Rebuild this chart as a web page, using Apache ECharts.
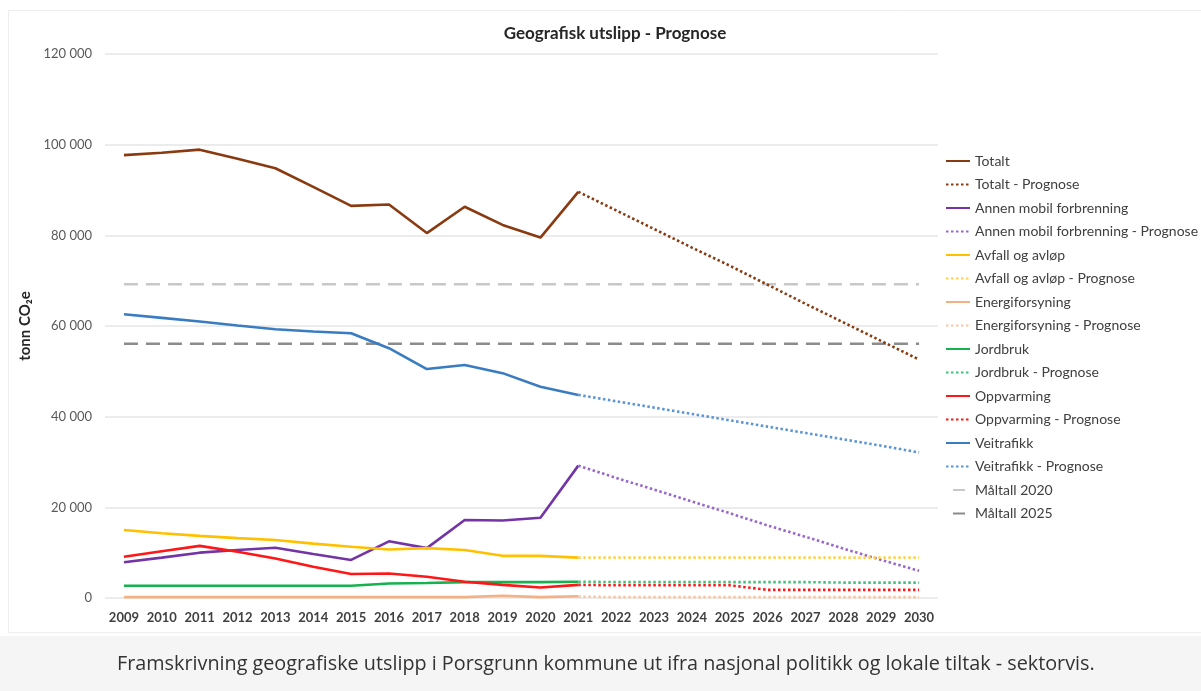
<!DOCTYPE html>
<html>
<head>
<meta charset="utf-8">
<script src="https://cdn.jsdelivr.net/npm/echarts@6/dist/echarts.min.js"></script>
<style>
  html, body { margin: 0; padding: 0; background: #fff; }
  #chart { width: 1201px; height: 691px; }
</style>
</head>
<body>
<div id="chart"></div>
<script>
const years = ['2009', '2010', '2011', '2012', '2013', '2014', '2015', '2016', '2017', '2018', '2019',
  '2020', '2021', '2022', '2023', '2024', '2025', '2026', '2027', '2028', '2029', '2030']
const yTicks = [0, 20000, 40000, 60000, 80000, 100000, 120000]

// historical values 2009-2021
const totalt = [97700, 98200, 98900, 96900, 94800, 90700, 86500, 86800, 80500, 86300, 82300, 79500, 89600]
const annenMobil = [7900, 8900, 10000, 10600, 11100, 9700, 8400, 12500, 11000, 17200, 17100, 17700, 29200]
const avfall = [15000, 14300, 13700, 13200, 12800, 12000, 11300, 10700, 11000, 10600, 9300, 9300, 8900]
const energi = [200, 200, 200, 200, 200, 200, 200, 200, 200, 200, 500, 200, 400]
const jordbruk = [2700, 2700, 2700, 2700, 2700, 2700, 2700, 3200, 3300, 3500, 3500, 3500, 3600]
const oppvarming = [9100, 10300, 11500, 10200, 8700, 6900, 5300, 5400, 4700, 3600, 2900, 2300, 2900]
const veitrafikk = [62600, 61800, 61000, 60100, 59300, 58800, 58400, 55100, 50500, 51400, 49600, 46600, 44800]

// forecast values 2021-2030
const totaltPrognose = [89600, 85500, 81400, 77300, 73300, 69100, 64900, 60800, 56700, 52600]
const annenMobilPrognose = [29200, 26500, 23900, 21300, 18700, 16000, 13500, 10900, 8400, 6000]
const avfallPrognose = [8900, 8900, 8900, 8900, 8900, 8900, 8900, 8900, 8900, 8900]
const energiPrognose = [300, 200, 200, 200, 200, 200, 200, 200, 200, 200]
const jordbrukPrognose = [3600, 3500, 3500, 3500, 3500, 3500, 3500, 3400, 3400, 3400]
const oppvarmingPrognose = [2900, 2800, 2800, 2800, 2800, 1800, 1800, 1800, 1800, 1800]
const veitrafikkPrognose = [44800, 43400, 42000, 40600, 39200, 37800, 36400, 35000, 33600, 32100]

// target lines, drawn from first to last year
const maal2020 = [69200, 69200]
const maal2025 = [56100, 56100]

const histLen = totalt.length
function hist(arr) {
  return years.map((y, i) => (i < histLen ? arr[i] : null))
}
function prog(arr) {
  const start = histLen - 1
  return years.map((y, i) => (i >= start ? arr[i - start] : null))
}
function target(arr) {
  return [[years[0], arr[0]], [years[years.length - 1], arr[1]]]
}

const dot = [2.5, 2.5]
function solidLine(name, data, color) {
  return {
    name, type: 'line', data: hist(data), symbol: 'none',
    lineStyle: { color, width: 2.6 }, itemStyle: { color }
  }
}
function dottedLine(name, data, color) {
  return {
    name, type: 'line', data: prog(data), symbol: 'none',
    lineStyle: { color, width: 2.6, type: dot }, itemStyle: { color }
  }
}

const colors = {
  totalt: '#8a3a10',
  annen: '#7334a6',
  avfall: '#ffc000',
  energi: '#f4b183',
  jordbruk: '#16b250',
  oppvarming: '#ff1616',
  veitrafikk: '#3a7cc2'
}

const series = [
  solidLine('Totalt', totalt, colors.totalt),
  dottedLine('Totalt - Prognose', totaltPrognose, colors.totalt),
  solidLine('Annen mobil forbrenning', annenMobil, colors.annen),
  dottedLine('Annen mobil forbrenning - Prognose', annenMobilPrognose, '#9966cc'),
  solidLine('Avfall og avløp', avfall, colors.avfall),
  dottedLine('Avfall og avløp - Prognose', avfallPrognose, '#ffd24d'),
  solidLine('Energiforsyning', energi, colors.energi),
  dottedLine('Energiforsyning - Prognose', energiPrognose, '#f7c6a3'),
  solidLine('Jordbruk', jordbruk, colors.jordbruk),
  dottedLine('Jordbruk - Prognose', jordbrukPrognose, '#3fc27a'),
  solidLine('Oppvarming', oppvarming, colors.oppvarming),
  dottedLine('Oppvarming - Prognose', oppvarmingPrognose, colors.oppvarming),
  solidLine('Veitrafikk', veitrafikk, colors.veitrafikk),
  dottedLine('Veitrafikk - Prognose', veitrafikkPrognose, '#5b95d6'),
  {
    name: 'Måltall 2020', type: 'line', data: target(maal2020), symbol: 'none',
    lineStyle: { color: '#c8c8c8', width: 2.5, type: [14, 8] }, itemStyle: { color: '#c8c8c8' }, z: 1
  },
  {
    name: 'Måltall 2025', type: 'line', data: target(maal2025), symbol: 'none',
    lineStyle: { color: '#8c8c8c', width: 2.5, type: [14, 8] }, itemStyle: { color: '#8c8c8c' }, z: 1
  }
]

const legendData = series.map(s => (s.name.startsWith('Måltall')
  ? { name: s.name, lineStyle: { type: [0, 7, 12, 7] } }
  : { name: s.name }))

const chart = echarts.init(document.getElementById('chart'))
chart.setOption({
  animation: false,
  textStyle: { fontFamily: 'Lato, "Open Sans", sans-serif' },
  title: {
    text: 'Geografisk utslipp - Prognose',
    left: 610, top: 20, textAlign: 'center',
    textStyle: { fontSize: 17, fontWeight: 'bold', color: '#262626' }
  },
  graphic: [
    {
      type: 'rect', left: 8, top: 10, z: -10,
      shape: { width: 1193, height: 622 },
      style: { fill: '#fff', stroke: '#eeeeee', lineWidth: 1 }
    },
    {
      type: 'rect', left: 0, top: 636, z: -10,
      shape: { width: 1201, height: 55 },
      style: { fill: '#f5f5f5' }
    },
    {
      type: 'text', left: 117, top: 654,
      style: {
        text: 'Framskrivning geografiske utslipp i Porsgrunn kommune ut ifra nasjonal politikk og lokale tiltak - sektorvis.',
        fontSize: 19.8, fill: '#333', fontFamily: '"Open Sans", sans-serif'
      }
    }
  ],
  legend: {
    orient: 'vertical', left: 940, top: 149,
    itemWidth: 24, itemHeight: 10, itemGap: 9.5,
    itemStyle: { opacity: 0 },
    textStyle: { fontSize: 14, color: '#404040' },
    data: legendData
  },
  grid: { left: 105, right: 263, top: 54, bottom: 93 },
  xAxis: {
    type: 'category', data: years, boundaryGap: true,
    axisLine: { show: false }, axisTick: { show: false },
    axisLabel: { interval: 0, fontSize: 13, color: '#404040', margin: 13, fontWeight: 'bold' }
  },
  yAxis: {
    type: 'value', min: yTicks[0], max: yTicks[yTicks.length - 1], interval: 20000,
    name: 'tonn CO₂e', nameLocation: 'middle', nameGap: 62,
    nameTextStyle: { fontSize: 15, fontWeight: 'bold', color: '#262626' },
    axisLabel: {
      fontSize: 13, color: '#595959', margin: 13,
      formatter: v => String(v).replace(/\B(?=(\d{3})+(?!\d))/g, ' ')
    },
    splitLine: { lineStyle: { color: '#e6e6e6', width: 1.5 } }
  },
  series
})
</script>
</body>
</html>
